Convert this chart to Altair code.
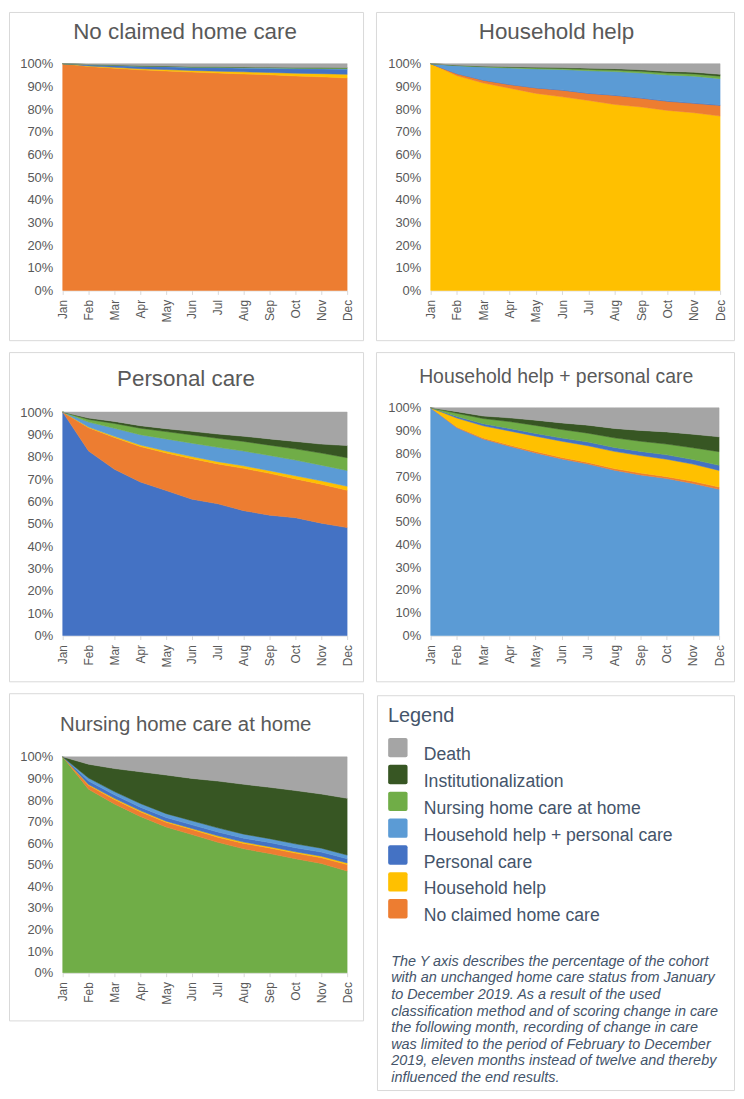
import altair as alt
import pandas as pd

# ---------------- data ----------------
MONTHS = ["Jan", "Feb", "Mar", "Apr", "May", "Jun", "Jul", "Aug", "Sep", "Oct", "Nov", "Dec"]

STATUSES = ["No claimed home care", "Household help", "Personal care",
            "Household help + personal care", "Nursing home care at home",
            "Institutionalization", "Death"]

LEGEND_ORDER = ["Death", "Institutionalization", "Nursing home care at home",
                "Household help + personal care", "Personal care", "Household help",
                "No claimed home care"]
LEGEND_COLORS = ["#a5a5a5", "#375623", "#70ad47", "#5b9bd5", "#4472c4", "#ffc000", "#ed7d31"]

PANEL_TITLES = ["No claimed home care", "Household help", "Personal care",
                "Household help + personal care", "Nursing home care at home"]

# percentage of the cohort per status, Jan..Dec
NO_CLAIM_PANEL = {
    "No claimed home care": [100, 98.8, 98.0, 97.3, 96.8, 96.3, 95.9, 95.5, 95.1, 94.6, 94.2, 93.7],
    "Household help": [0, 0.2, 0.4, 0.5, 0.6, 0.7, 0.8, 0.9, 1.0, 1.2, 1.4, 1.6],
    "Personal care": [0, 0.5, 0.8, 1.0, 1.2, 1.3, 1.5, 1.6, 1.8, 1.9, 2.0, 2.2],
    "Household help + personal care": [0, 0.05, 0.1, 0.1, 0.15, 0.15, 0.2, 0.2, 0.2, 0.25, 0.25, 0.3],
    "Nursing home care at home": [0, 0.05, 0.1, 0.1, 0.15, 0.15, 0.2, 0.2, 0.25, 0.25, 0.3, 0.3],
    "Institutionalization": [0, 0, 0.05, 0.05, 0.05, 0.1, 0.1, 0.1, 0.1, 0.1, 0.15, 0.15],
    "Death": [0, 0.4, 0.55, 0.95, 1.05, 1.3, 1.3, 1.5, 1.55, 1.7, 1.7, 1.75],
}
HOUSEHOLD_PANEL = {
    "Household help": [100, 94.7, 91.5, 89.2, 86.9, 85.4, 83.8, 82.0, 80.9, 79.4, 78.4, 76.9],
    "No claimed home care": [0, 0.9, 1.2, 1.6, 2.4, 2.9, 3.1, 4.0, 3.9, 4.0, 4.1, 4.7],
    "Personal care": [0, 0.05, 0.1, 0.1, 0.1, 0.15, 0.15, 0.2, 0.2, 0.2, 0.25, 0.3],
    "Household help + personal care": [0, 3.45, 5.7, 7.2, 8.3, 8.95, 9.85, 10.3, 10.9, 11.4, 11.75, 11.5],
    "Nursing home care at home": [0, 0.15, 0.25, 0.35, 0.45, 0.5, 0.6, 0.7, 0.8, 0.9, 1.0, 1.1],
    "Institutionalization": [0, 0.1, 0.15, 0.2, 0.3, 0.4, 0.5, 0.55, 0.6, 0.7, 0.75, 0.8],
    "Death": [0, 0.65, 1.1, 1.35, 1.55, 1.7, 2.0, 2.25, 2.7, 3.4, 3.75, 4.7],
}
PERSONAL_PANEL = {
    "Personal care": [100, 82.5, 74.6, 68.6, 64.6, 60.9, 58.7, 55.7, 53.8, 52.5, 50.2, 48.0],
    "No claimed home care": [0, 10.4, 14.3, 15.8, 16.8, 18.1, 17.8, 18.9, 18.7, 17.3, 17.4, 16.6],
    "Household help": [0, 0.3, 0.5, 0.7, 0.8, 0.9, 1.0, 1.1, 1.2, 1.4, 1.5, 1.8],
    "Household help + personal care": [0, 2.2, 3.6, 4.6, 5.4, 6.0, 6.4, 6.6, 6.8, 7.0, 7.0, 7.0],
    "Nursing home care at home": [0, 1.2, 2.2, 2.9, 3.3, 3.7, 4.0, 4.3, 4.6, 5.0, 5.4, 5.7],
    "Institutionalization": [0, 0.6, 0.9, 1.1, 1.3, 1.6, 1.9, 2.3, 2.8, 3.3, 4.0, 5.4],
    "Death": [0, 2.7, 4.2, 6.1, 7.4, 8.6, 9.8, 10.8, 12.0, 13.1, 14.3, 14.9],
}
COMBINED_PANEL = {
    "Household help + personal care": [100, 91.0, 86.2, 82.7, 79.8, 77.1, 75.0, 72.1, 69.6, 68.4, 66.2, 64.0],
    "No claimed home care": [0, 0.4, 0.5, 0.5, 0.6, 0.6, 0.7, 0.7, 0.8, 0.8, 0.9, 1.0],
    "Household help": [0, 3.9, 5.3, 6.2, 6.7, 7.1, 7.3, 7.5, 7.6, 7.6, 7.5, 7.3],
    "Personal care": [0, 0.7, 0.9, 1.1, 1.2, 1.4, 1.6, 1.7, 1.8, 1.9, 2.0, 2.2],
    "Nursing home care at home": [0, 1.4, 2.3, 3.0, 3.5, 3.7, 3.9, 4.2, 4.4, 4.7, 5.1, 6.0],
    "Institutionalization": [0, 0.7, 1.1, 1.6, 2.3, 2.9, 3.5, 4.1, 4.7, 5.3, 5.9, 6.5],
    "Death": [0, 1.7, 3.6, 4.4, 5.4, 6.6, 7.6, 9.0, 9.8, 10.5, 11.5, 12.7],
}
NURSING_PANEL = {
    "Nursing home care at home": [100, 85.0, 78.2, 72.4, 67.5, 64.0, 60.4, 57.4, 55.2, 52.8, 50.6, 47.1],
    "No claimed home care": [0, 1.8, 2.1, 2.2, 2.2, 2.3, 2.4, 2.5, 2.6, 2.6, 2.7, 3.0],
    "Household help": [0, 0.4, 0.5, 0.5, 0.5, 0.5, 0.6, 0.6, 0.6, 0.6, 0.7, 0.7],
    "Personal care": [0, 1.6, 1.6, 1.6, 1.7, 1.7, 1.8, 1.8, 1.9, 1.9, 1.9, 2.0],
    "Household help + personal care": [0, 1.4, 1.5, 1.7, 1.8, 1.9, 1.9, 1.9, 1.8, 1.8, 1.8, 1.7],
    "Institutionalization": [0, 6.4, 10.7, 14.7, 17.9, 19.6, 21.7, 23.1, 23.8, 24.7, 25.1, 26.3],
    "Death": [0, 3.4, 5.4, 6.9, 8.4, 10.0, 11.2, 12.7, 14.1, 15.6, 17.2, 19.2],
}

NOTE_LINES = [
    "The Y axis describes the percentage of the cohort",
    "with an unchanged home care status from January",
    "to December 2019. As a result of the used",
    "classification method and of scoring change in care",
    "the following month, recording of change in care",
    "was limited to the period of February to December",
    "2019, eleven months instead of twelve and thereby",
    "influenced the end results.",
]

# ---------------- styling ----------------
FONT = "Liberation Sans"
AXIS_GRAY = "#595959"
BORDER = "#d9d9d9"
LEGEND_TEXT = "#44546a"

# rounded swatch, lifted a little above the label centre
SWATCH = ("M-0.8,-1.78H0.8Q1,-1.78,1,-1.58V0.02Q1,0.22,0.8,0.22H-0.8"
          "Q-1,0.22,-1,0.02V-1.58Q-1,-1.78,-0.8,-1.78Z")

color_scale = alt.Scale(domain=LEGEND_ORDER, range=LEGEND_COLORS)

legend = alt.Legend(
    title="Legend", orient="none", legendX=327, legendY=645.5, direction="vertical",
    symbolType=SWATCH, symbolSize=380, symbolStrokeWidth=0, symbolOpacity=1,
    labelFont=FONT, labelFontSize=17.7, labelColor=LEGEND_TEXT, labelOffset=16,
    labelLimit=400, labelBaseline="middle", rowPadding=0,
    titleFont=FONT, titleFontSize=20, titleFontWeight="normal", titleColor=LEGEND_TEXT,
    titlePadding=19.8, padding=0,
)


def panel(title, values, width, height, box, title_xy, title_size, ymax=1.0):
    order = [title] + [s for s in STATUSES if s != title]
    rows = []
    for k, s in enumerate(order):
        for m, v in zip(MONTHS, values[s]):
            rows.append({"month": m, "status": s, "value": v, "ord": k})
    df = pd.DataFrame(rows)
    one = pd.DataFrame({"label": [title]})

    frame = alt.Chart(one).mark_rect(filled=False, stroke=BORDER, strokeWidth=1).encode(
        x=alt.value(box[0]), x2=alt.value(box[1]), y=alt.value(box[2]), y2=alt.value(box[3])
    )
    areas = alt.Chart(df).mark_area(opacity=1, strokeWidth=0.5).encode(
        x=alt.X("month:O", sort=MONTHS, scale=alt.Scale(padding=0),
                axis=alt.Axis(title=None, labelAngle=270, labelFont=FONT, labelFontSize=12,
                              labelColor=AXIS_GRAY, labelPadding=5, tickColor=BORDER,
                              tickSize=4, domainColor=BORDER, grid=False)),
        y=alt.Y("value:Q", stack="normalize", scale=alt.Scale(domain=[0, ymax], nice=False),
                axis=alt.Axis(title=None, values=[i / 10 for i in range(11)], format=".0%",
                              labelFont=FONT, labelFontSize=13, labelColor=AXIS_GRAY,
                              labelPadding=10, ticks=False, tickSize=0, domain=False,
                              grid=False)),
        color=alt.Color("status:N", scale=color_scale, legend=legend),
        stroke=alt.Stroke("status:N", scale=color_scale, legend=None),
        order=alt.Order("ord:Q", sort="ascending"),
    )
    head = alt.Chart(one).mark_text(align="center", baseline="alphabetic", font=FONT,
                                    fontSize=title_size, color=AXIS_GRAY).encode(
        x=alt.value(title_xy[0]), y=alt.value(title_xy[1]), text="label:N"
    )
    return alt.layer(frame, areas, head).properties(width=width, height=height)


p1 = panel(PANEL_TITLES[0], NO_CLAIM_PANEL, 286, 228, (-53.5, 302.5, -51.5, 278.5), (123, -24.7), 22.5)
p2 = panel(PANEL_TITLES[1], HOUSEHOLD_PANEL, 291, 228, (-54.5, 305.5, -51.5, 278.5), (126.5, -24.7), 22.5)
p3 = panel(PANEL_TITLES[2], PERSONAL_PANEL, 286, 229, (-53.5, 302.5, -55.5, 275.5), (124, -22), 22.5,
           ymax=1.0191)
p4 = panel(PANEL_TITLES[3], COMBINED_PANEL, 290, 229, (-54.5, 305.5, -55.5, 275.5), (126.2, -24.7), 19.5)
p5 = panel(PANEL_TITLES[4], NURSING_PANEL, 286, 217, (-53.5, 302.5, -63.5, 265.5), (123.7, -26.3), 20.5)

note_df = pd.DataFrame({"k": [0]})
legend_box = alt.Chart(note_df).mark_rect(filled=False, stroke=BORDER, strokeWidth=1).encode(
    x=alt.value(-53.5), x2=alt.value(305.5), y=alt.value(-61.5), y2=alt.value(335.5)
)
note = alt.Chart(note_df).mark_text(align="left", baseline="alphabetic", font=FONT,
                                    fontSize=14.5, fontStyle="italic", lineHeight=16.7,
                                    color=LEGEND_TEXT).encode(
    x=alt.value(-39.7), y=alt.value(210), text=alt.value(NOTE_LINES)
)
legend_cell = alt.layer(legend_box, note).properties(width=290, height=200)

chart = alt.concat(
    p1, p2, p3, p4, p5, legend_cell,
    columns=2, spacing=alt.RowColnumber(row=9, column=10), align="each",
).properties(padding=0, background="white").configure_view(stroke="transparent")

chart.save("out.html", embed_options={"renderer": "svg", "actions": False})
